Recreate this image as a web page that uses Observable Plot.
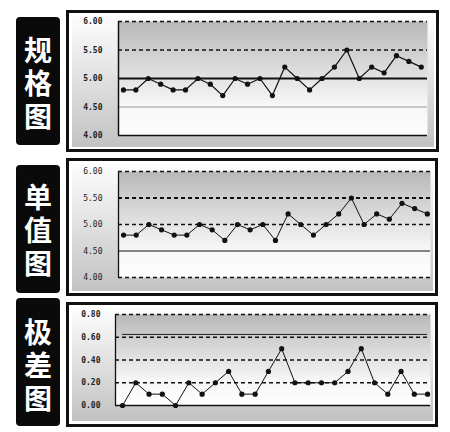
<!DOCTYPE html>
<html><head><meta charset="utf-8">
<script src="https://cdn.jsdelivr.net/npm/d3@7"></script>
<script src="https://cdn.jsdelivr.net/npm/@observablehq/plot@0.6"></script>
<style>
body{margin:0;background:#fff;width:450px;height:432px;position:relative;overflow:hidden;font-family:"Noto Sans CJK SC",sans-serif}
.lab{position:absolute;background:#0a0a0a;border-radius:4px;color:#fff;box-sizing:border-box;display:flex;justify-content:center;align-items:flex-start}
.lab .v{writing-mode:vertical-rl;text-orientation:upright;letter-spacing:5px;line-height:1;font-size:28px;font-weight:700}
.frame{position:absolute;border:3px solid #111;background:#fff;box-sizing:border-box}
.area{position:absolute;background:linear-gradient(to bottom,#fdfdfd,#c2c2c2)}
.area svg{display:block}
</style></head><body>
<script>
// ---- data ----
const panelTitles = ["规格图", "单值图", "极差图"];
const values = [4.8, 4.8, 5.0, 4.9, 4.8, 4.8, 5.0, 4.9, 4.7, 5.0, 4.9, 5.0, 4.7, 5.2, 5.0, 4.8, 5.0, 5.2, 5.5, 5.0, 5.2, 5.1, 5.4, 5.3, 5.2];
const ranges = [0.0, 0.2, 0.1, 0.1, 0.0, 0.2, 0.1, 0.2, 0.3, 0.1, 0.1, 0.3, 0.5, 0.2, 0.2, 0.2, 0.2, 0.3, 0.5, 0.2, 0.1, 0.3, 0.1, 0.1];
const valueTicks = [4.00, 4.50, 5.00, 5.50, 6.00];
const rangeTicks = [0.00, 0.20, 0.40, 0.60, 0.80];
// reference levels
const specDashed = [6.00, 5.50];
const specCenter = [5.00];
const specLower = [4.50];
const specBottom = [4.00];
const indivDashed = [6.00, 5.00, 4.00];
const indivUpper = [5.50];
const indivLower = [4.50];
const rangeDashed = [0.80, 0.60, 0.40, 0.20];
const rangeBottom = [0.00];
const rangeUCL = [0.625];

const fmt = d3.format(".2f");
const X = (d, i) => i + 1;
const Y = d => d;

function addGradient(svg, id) {
  const defs = d3.select(svg).insert("defs", ":first-child");
  const g = defs.append("linearGradient").attr("id", id).attr("x1", 0).attr("y1", 0).attr("x2", 0).attr("y2", 1);
  g.append("stop").attr("offset", 0).attr("stop-color", "#b8b8b8");
  g.append("stop").attr("offset", 0.72).attr("stop-color", "#f6f6f6");
  g.append("stop").attr("offset", 1).attr("stop-color", "#fefefe");
}

function place(cls, x, y, w, h) {
  const d = document.createElement("div");
  d.className = cls;
  Object.assign(d.style, {left: x + "px", top: y + "px", width: w + "px", height: h + "px"});
  document.body.appendChild(d);
  return d;
}

function label(text, x, y, w, h, pad) {
  const d = place("lab", x, y, w, h);
  d.style.paddingTop = pad + "px";
  const v = document.createElement("div");
  v.className = "v";
  v.textContent = text;
  d.appendChild(v);
}

const axisStyle = (bold) => ({background: "transparent", fontFamily: "'DejaVu Sans Mono', monospace", fontSize: "8px", fontWeight: bold ? "700" : "400", color: "#222", overflow: "visible"});

// ---- panel 1: 规格图 ----
label(panelTitles[0], 16, 17, 44, 128, 19);
place("frame", 66, 10, 373, 142);
{
  const area = place("area", 72, 16, 362, 131);
  const svg = Plot.plot({
    width: 362, height: 131, marginLeft: 46, marginRight: 7, marginTop: 5, marginBottom: 12,
    style: axisStyle(true),
    x: {domain: [0.6, 25.5], axis: null},
    y: {domain: [4, 6], ticks: valueTicks, tickFormat: fmt, tickSize: 0, tickPadding: 16, label: null},
    marks: [
      Plot.frame({fill: "url(#g1)", stroke: "none"}),
      Plot.ruleY(specLower, {stroke: "#9a9a9a", strokeWidth: 1}),
      Plot.ruleY(specDashed, {stroke: "#111", strokeWidth: 1.4, strokeDasharray: "4,3"}),
      Plot.ruleY(specCenter, {stroke: "#111", strokeWidth: 2}),
      Plot.ruleY(specBottom, {stroke: "#111", strokeWidth: 1.6}),
      Plot.ruleX([0.6], {stroke: "#111", strokeWidth: 1.5}),
      Plot.line(values, {x: X, y: Y, stroke: "#111", strokeWidth: 1.2}),
      Plot.dot(values, {x: X, y: Y, r: 2.6, fill: "#111", stroke: "none"})
    ]
  });
  addGradient(svg, "g1");
  area.appendChild(svg);
}

// ---- panel 2: 单值图 ----
label(panelTitles[1], 16, 165, 44, 128, 18);
place("frame", 66, 158, 372, 138);
{
  const area = place("area", 72, 164, 361, 127);
  const svg = Plot.plot({
    width: 361, height: 127, marginLeft: 46, marginRight: 3, marginTop: 7, marginBottom: 14,
    style: axisStyle(false),
    x: {domain: [0.6, 25.25], axis: null},
    y: {domain: [4, 6], ticks: valueTicks, tickFormat: fmt, tickSize: 0, tickPadding: 16, label: null},
    marks: [
      Plot.frame({fill: "url(#g2)", stroke: "none"}),
      Plot.ruleY(indivLower, {stroke: "#111", strokeWidth: 1.2}),
      Plot.ruleY(indivDashed, {stroke: "#111", strokeWidth: 1.5, strokeDasharray: "4,3"}),
      Plot.ruleY(indivUpper, {stroke: "#111", strokeWidth: 2, strokeDasharray: "4,3"}),
      Plot.ruleX([0.6], {stroke: "#111", strokeWidth: 1.3}),
      Plot.line(values, {x: X, y: Y, stroke: "#111", strokeWidth: 1}),
      Plot.dot(values, {x: X, y: Y, r: 2.6, fill: "#111", stroke: "none"})
    ]
  });
  addGradient(svg, "g2");
  area.appendChild(svg);
}

// ---- panel 3: 极差图 ----
label(panelTitles[2], 16, 298, 44, 128, 20);
place("frame", 66, 302, 372, 125);
{
  const area = place("area", 72, 308, 361, 113);
  const svg = Plot.plot({
    width: 361, height: 113, marginLeft: 43, marginRight: 3, marginTop: 6, marginBottom: 16,
    style: axisStyle(true),
    x: {domain: [0.47, 24.22], axis: null},
    y: {domain: [0, 0.8], ticks: rangeTicks, tickFormat: fmt, tickSize: 0, tickPadding: 15, label: null},
    marks: [
      Plot.frame({fill: "url(#g3)", stroke: "none"}),
      Plot.ruleY(rangeDashed, {stroke: "#111", strokeWidth: 1.5, strokeDasharray: "4,3"}),
      Plot.ruleY(rangeUCL, {x1: 1, x2: ranges.length, stroke: "#222", strokeWidth: 1}),
      Plot.ruleY(rangeBottom, {stroke: "#111", strokeWidth: 1.5}),
      Plot.ruleX([0.47], {stroke: "#111", strokeWidth: 1.3}),
      Plot.line(ranges, {x: X, y: Y, stroke: "#111", strokeWidth: 1}),
      Plot.dot(ranges, {x: X, y: Y, r: 2.6, fill: "#111", stroke: "none"})
    ]
  });
  addGradient(svg, "g3");
  area.appendChild(svg);
}
</script>
</body></html>
